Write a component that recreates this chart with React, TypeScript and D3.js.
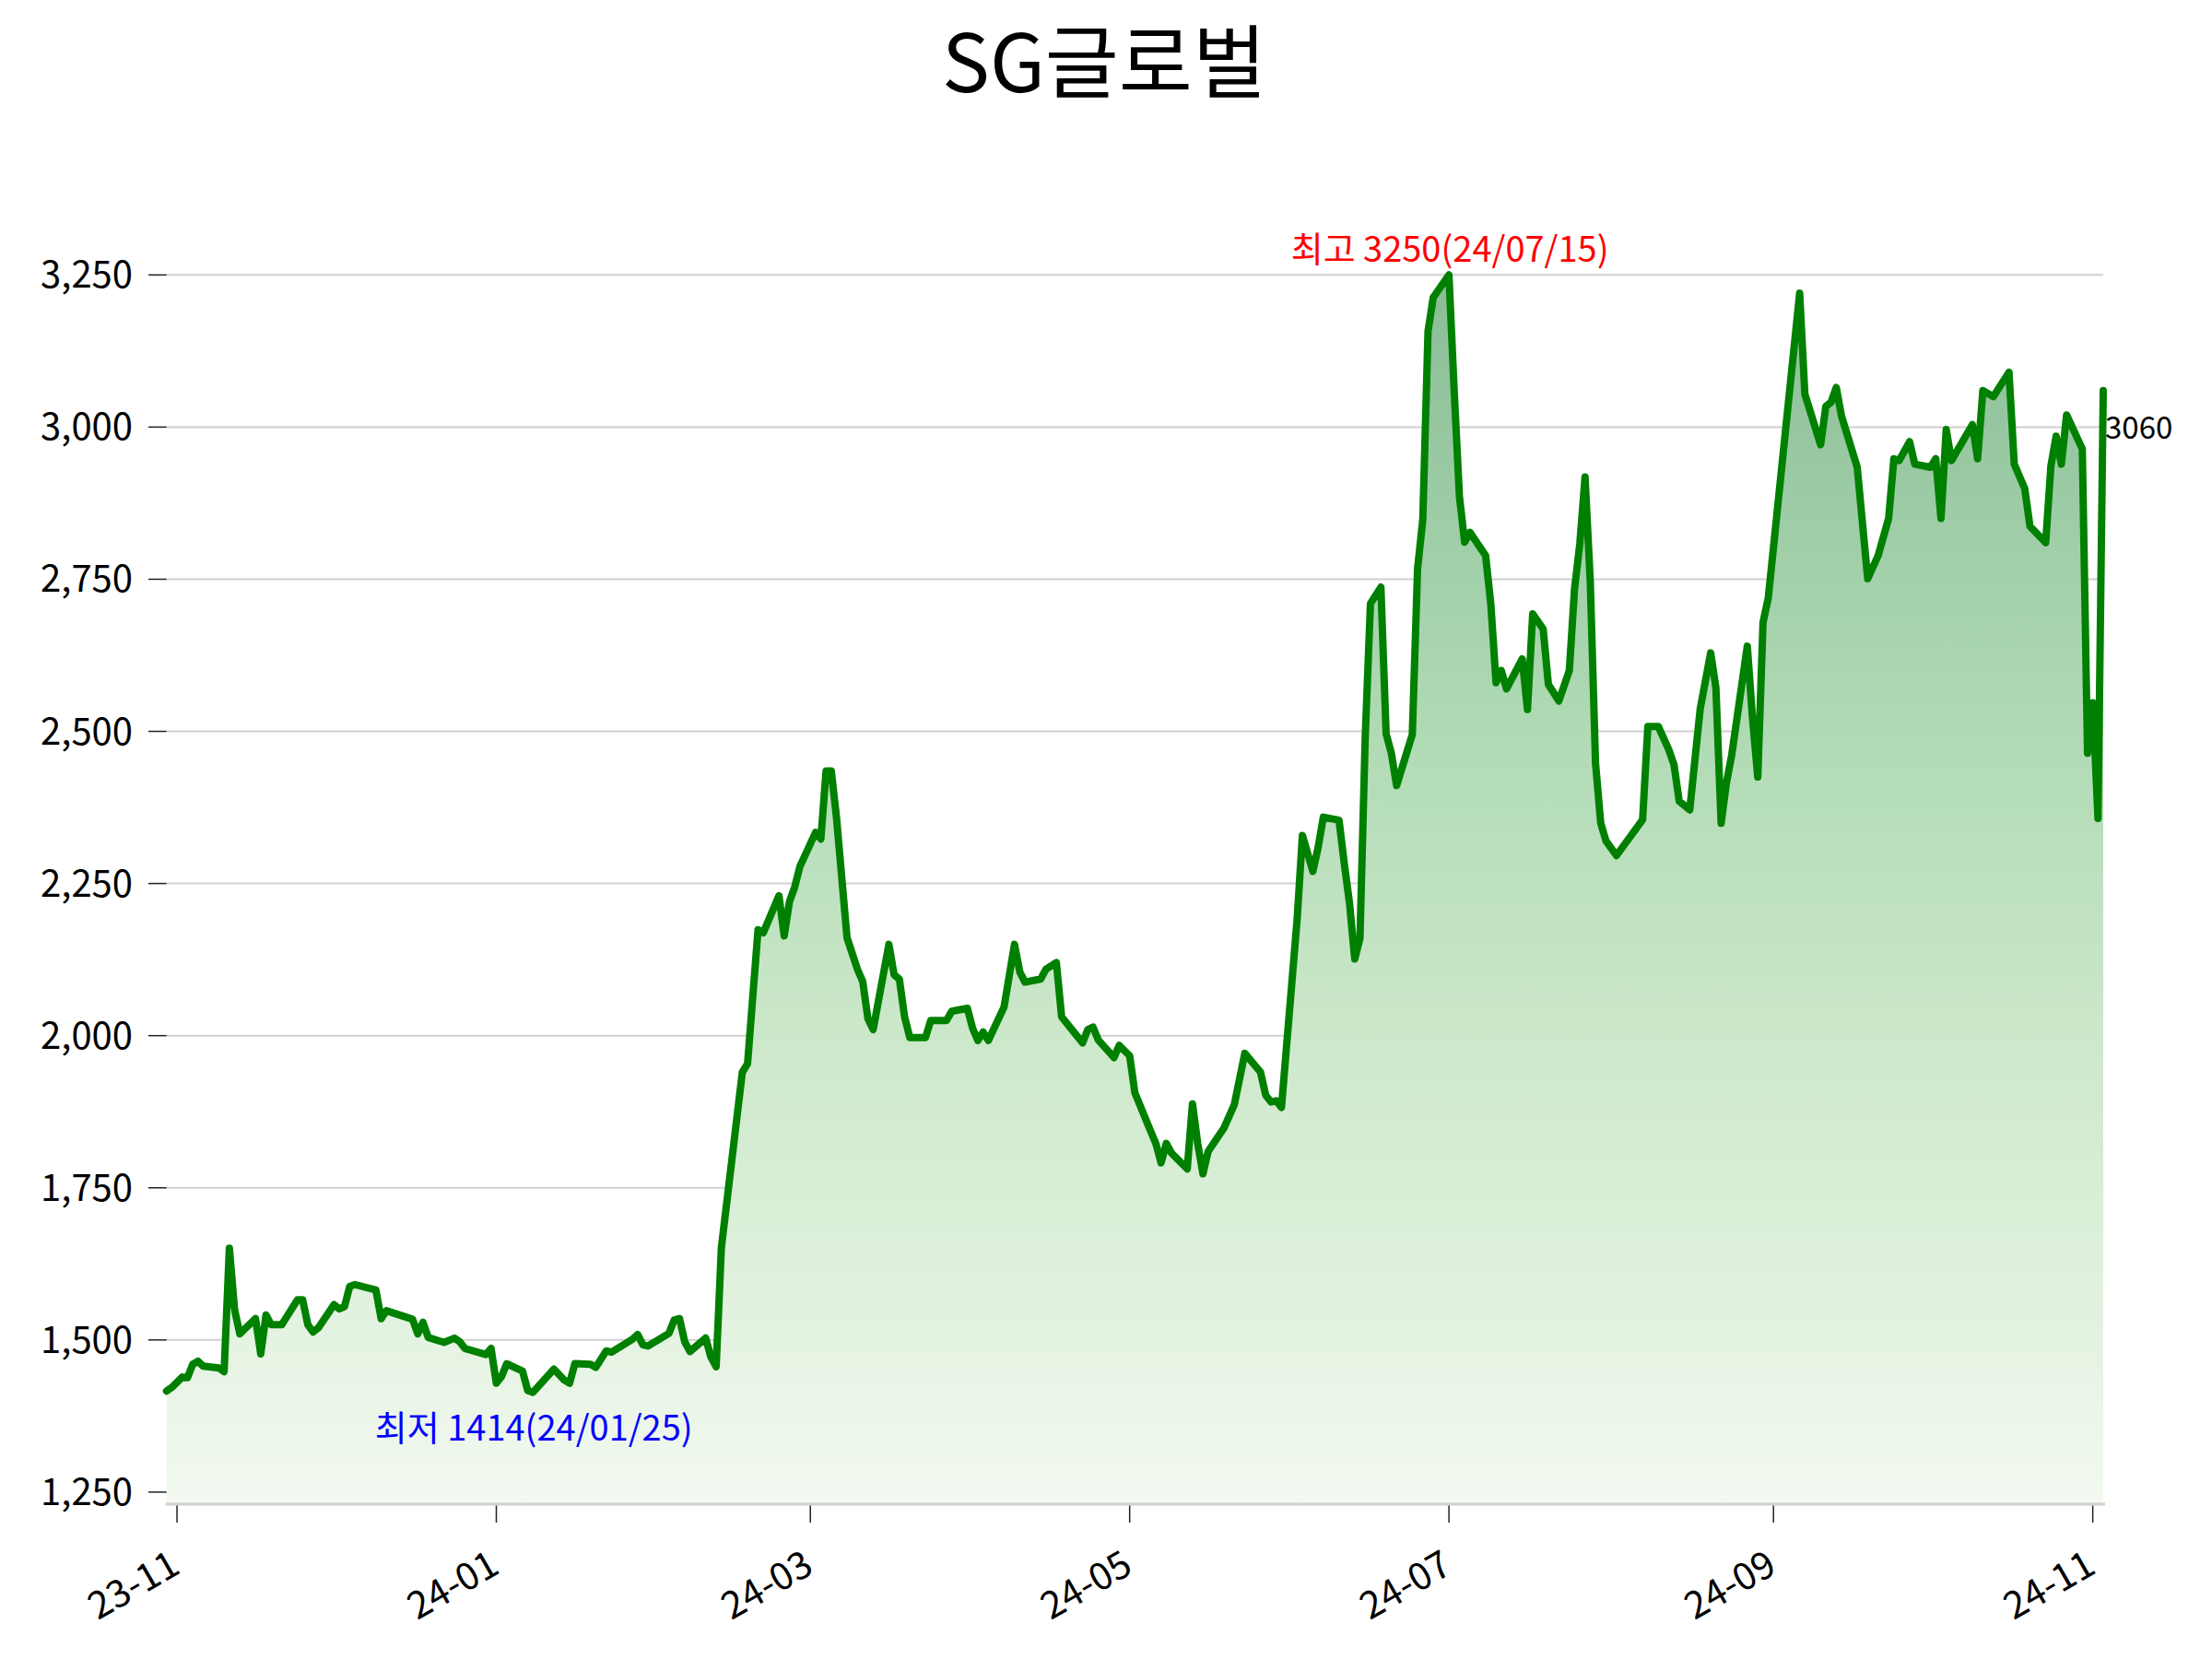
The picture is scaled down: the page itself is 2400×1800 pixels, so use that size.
import { useEffect, useRef } from "react";
import * as d3 from "d3";

const title = "SG글로벌";

// trading dates (as placed on the chart) and closing prices
const dates = [
  "2023-10-30", "2023-10-31", "2023-11-02", "2023-11-03", "2023-11-04", "2023-11-05", "2023-11-06",
  "2023-11-09", "2023-11-10", "2023-11-11", "2023-11-12", "2023-11-13", "2023-11-16", "2023-11-17",
  "2023-11-18", "2023-11-19", "2023-11-21", "2023-11-24", "2023-11-25", "2023-11-26", "2023-11-27",
  "2023-11-28",
  "2023-12-01", "2023-12-02", "2023-12-03", "2023-12-04", "2023-12-05", "2023-12-09", "2023-12-10",
  "2023-12-11", "2023-12-16", "2023-12-17", "2023-12-18", "2023-12-19", "2023-12-22", "2023-12-24",
  "2023-12-25", "2023-12-26", "2023-12-30", "2023-12-31",
  "2024-01-01", "2024-01-02", "2024-01-03", "2024-01-06", "2024-01-07", "2024-01-08", "2024-01-12",
  "2024-01-14", "2024-01-15", "2024-01-16", "2024-01-19", "2024-01-20", "2024-01-22", "2024-01-23",
  "2024-01-27", "2024-01-28", "2024-01-29", "2024-01-30",
  "2024-02-03", "2024-02-04", "2024-02-05", "2024-02-06", "2024-02-07", "2024-02-10", "2024-02-11",
  "2024-02-12", "2024-02-13", "2024-02-17", "2024-02-18", "2024-02-20", "2024-02-21", "2024-02-24",
  "2024-02-25", "2024-02-26", "2024-02-27", "2024-02-28",
  "2024-03-02", "2024-03-03", "2024-03-04", "2024-03-05", "2024-03-06", "2024-03-08", "2024-03-10",
  "2024-03-11", "2024-03-12", "2024-03-13", "2024-03-16", "2024-03-17", "2024-03-18", "2024-03-19",
  "2024-03-20", "2024-03-23", "2024-03-24", "2024-03-27", "2024-03-28", "2024-03-31",
  "2024-04-01", "2024-04-02", "2024-04-03", "2024-04-04", "2024-04-07", "2024-04-09", "2024-04-10",
  "2024-04-11", "2024-04-14", "2024-04-15", "2024-04-17", "2024-04-18", "2024-04-22", "2024-04-23",
  "2024-04-24", "2024-04-25", "2024-04-28", "2024-04-29",
  "2024-05-01", "2024-05-02", "2024-05-05", "2024-05-06", "2024-05-07", "2024-05-08", "2024-05-09",
  "2024-05-12", "2024-05-13", "2024-05-14", "2024-05-15", "2024-05-16", "2024-05-19", "2024-05-21",
  "2024-05-23", "2024-05-26", "2024-05-27", "2024-05-28", "2024-05-29", "2024-05-30",
  "2024-06-02", "2024-06-03", "2024-06-05", "2024-06-06", "2024-06-07", "2024-06-10", "2024-06-11",
  "2024-06-12", "2024-06-13", "2024-06-14", "2024-06-15", "2024-06-16", "2024-06-18", "2024-06-19",
  "2024-06-20", "2024-06-21", "2024-06-24", "2024-06-25", "2024-06-26", "2024-06-27", "2024-06-28",
  "2024-07-01", "2024-07-02", "2024-07-03", "2024-07-04", "2024-07-05", "2024-07-08", "2024-07-09",
  "2024-07-10", "2024-07-11", "2024-07-12", "2024-07-15", "2024-07-16", "2024-07-17", "2024-07-19",
  "2024-07-20", "2024-07-22", "2024-07-24", "2024-07-25", "2024-07-26", "2024-07-27", "2024-07-28",
  "2024-07-29", "2024-07-30", "2024-07-31",
  "2024-08-02", "2024-08-07", "2024-08-08", "2024-08-10", "2024-08-12", "2024-08-13", "2024-08-14",
  "2024-08-16", "2024-08-18", "2024-08-20", "2024-08-21", "2024-08-22", "2024-08-23", "2024-08-24",
  "2024-08-27", "2024-08-28", "2024-08-29", "2024-08-30", "2024-08-31",
  "2024-09-06", "2024-09-07", "2024-09-10", "2024-09-11", "2024-09-12", "2024-09-13", "2024-09-14",
  "2024-09-17", "2024-09-19", "2024-09-21", "2024-09-23", "2024-09-24", "2024-09-25", "2024-09-27",
  "2024-09-28",
  "2024-10-01", "2024-10-02", "2024-10-03", "2024-10-04", "2024-10-05", "2024-10-09", "2024-10-10",
  "2024-10-11", "2024-10-13", "2024-10-16", "2024-10-17", "2024-10-19", "2024-10-20", "2024-10-23",
  "2024-10-24", "2024-10-25", "2024-10-26", "2024-10-27", "2024-10-30", "2024-10-31",
  "2024-11-01", "2024-11-02", "2024-11-03",
];

const prices = [
  1416, 1422, 1439, 1438, 1460, 1465, 1457, 1454, 1448, 1651, 1550, 1510, 1535, 1477, 1541, 1525,
  1525, 1566, 1566, 1525, 1513, 1520,
  1558, 1551, 1555, 1588, 1591, 1582, 1535, 1548, 1534, 1510, 1529, 1504, 1496, 1503, 1497, 1486,
  1476, 1486,
  1429, 1440, 1461, 1449, 1417, 1414, 1452, 1434, 1429, 1461, 1460, 1455, 1482, 1480, 1501, 1509,
  1492, 1490,
  1511, 1533, 1535, 1497, 1481, 1503, 1472, 1456, 1652, 1940, 1954, 2174, 2169, 2230, 2164, 2220,
  2244, 2278,
  2334, 2323, 2435, 2435, 2358, 2161, 2109, 2089, 2028, 2010, 2150, 2100, 2093, 2031, 1997, 1997,
  2025, 2025, 2040, 2045,
  2012, 1992, 2006, 1992, 2047, 2150, 2105, 2088, 2093, 2109, 2120, 2031, 1988, 2010, 2014, 1993,
  1964, 1984,
  1967, 1906, 1843, 1823, 1791, 1823, 1807, 1781, 1888, 1823, 1773, 1810, 1848, 1887, 1971, 1940,
  1902, 1891, 1893, 1882,
  2192, 2329, 2270, 2309, 2359, 2354, 2283, 2218, 2126, 2160, 2490, 2710, 2737, 2496, 2464, 2411,
  2495, 2767, 2848, 3157, 3213,
  3250, 3060, 2886, 2811, 2827, 2789, 2709, 2580, 2600, 2570, 2619, 2536, 2693, 2668, 2577, 2550,
  2600, 2735, 2808, 2918, 2747, 2448, 2349, 2320,
  2296, 2355, 2508, 2508, 2470, 2445, 2385, 2371, 2537, 2629, 2572, 2349, 2415, 2460, 2640, 2521,
  2425, 2679, 2719,
  3220, 3054, 2971, 3034, 3041, 3065, 3018, 2934, 2751, 2789, 2850, 2948, 2945, 2976, 2939,
  2934, 2948, 2850, 2996, 2945, 3004, 2948, 3060, 3050, 3090, 2939, 2899, 2837, 2810, 2936, 2985,
  2939, 3020, 2964, 2464,
  2547, 2357, 3060,
];

const yTicks = [1250, 1500, 1750, 2000, 2250, 2500, 2750, 3000, 3250];
const xTickDates = ["2023-11-01", "2024-01-01", "2024-03-01", "2024-05-01", "2024-07-01", "2024-09-01", "2024-11-01"];
const highLabel = "최고 3250(24/07/15)";
const lowLabel = "최저 1414(24/01/25)";

const FONT = "'Noto Sans CJK KR', 'Noto Sans', sans-serif";

const App = () => {
  const svgRef = useRef<SVGSVGElement | null>(null);

  useEffect(() => {
    const svg = d3.select(svgRef.current);
    svg.selectAll("*").remove();

    const parse = d3.utcParse("%Y-%m-%d");
    const data = dates.map((d, i) => ({ date: parse(d)!, value: prices[i] }));

    const left = 180.7,
      right = 2282,
      top = 191,
      bottom = 1632;

    const x = d3
      .scaleUtc()
      .domain(d3.extent(data, (d) => d.date) as [Date, Date])
      .range([left, right]);

    const minV = d3.min(prices)!;
    const maxV = d3.max(prices)!;
    const y = d3
      .scaleLinear()
      .domain([minV * 0.87, maxV * 1.05])
      .range([bottom, top]);

    const defs = svg.append("defs");
    const grad = defs
      .append("linearGradient")
      .attr("id", "fillGrad")
      .attr("gradientUnits", "userSpaceOnUse")
      .attr("x1", 0)
      .attr("x2", 0)
      .attr("y1", y(maxV))
      .attr("y2", bottom);
    [
      [0, "#89bd96"],
      [0.37, "#afdab4"],
      [0.62, "#cce8ca"],
      [0.87, "#e5f3e2"],
      [1, "#f3f9f1"],
    ].forEach(([o, c]) => grad.append("stop").attr("offset", o as number).attr("stop-color", c as string));

    // title
    svg
      .append("text")
      .attr("x", 1198)
      .attr("y", 100)
      .attr("text-anchor", "middle")
      .attr("font-family", FONT)
      .attr("font-size", 87)
      .attr("fill", "#000")
      .text(title);

    // gridlines
    svg
      .append("g")
      .selectAll("line")
      .data(yTicks)
      .enter()
      .append("line")
      .attr("x1", left)
      .attr("x2", right)
      .attr("y1", (d) => y(d))
      .attr("y2", (d) => y(d))
      .attr("stroke", "#d0d0d0")
      .attr("stroke-width", 2);

    const area = d3
      .area<{ date: Date; value: number }>()
      .x((d) => x(d.date))
      .y0(bottom)
      .y1((d) => y(d.value));

    svg.append("path").datum(data).attr("d", area).attr("fill", "url(#fillGrad)");

    const line = d3
      .line<{ date: Date; value: number }>()
      .x((d) => x(d.date))
      .y((d) => y(d.value));

    svg
      .append("path")
      .datum(data)
      .attr("d", line)
      .attr("fill", "none")
      .attr("stroke", "#008000")
      .attr("stroke-width", 8)
      .attr("stroke-linejoin", "round")
      .attr("stroke-linecap", "round");

    // bottom spine
    svg
      .append("line")
      .attr("x1", left - 1)
      .attr("x2", right + 2)
      .attr("y1", bottom)
      .attr("y2", bottom)
      .attr("stroke", "#d0d0d0")
      .attr("stroke-width", 3);

    // y axis ticks + labels
    const yAxis = svg.append("g");
    yAxis
      .selectAll("line")
      .data(yTicks)
      .enter()
      .append("line")
      .attr("x1", 161)
      .attr("x2", left)
      .attr("y1", (d) => y(d))
      .attr("y2", (d) => y(d))
      .attr("stroke", "#222")
      .attr("stroke-width", 1.5);
    yAxis
      .selectAll("text")
      .data(yTicks)
      .enter()
      .append("text")
      .attr("x", 144)
      .attr("y", (d) => y(d))
      .attr("dy", "0.35em")
      .attr("text-anchor", "end")
      .attr("font-family", FONT)
      .attr("font-size", 40)
      .attr("fill", "#000")
      .text((d) => d3.format(",")(d));

    // x axis ticks + labels
    const fmt = d3.utcFormat("%y-%m");
    const xTicks = xTickDates.map((d) => parse(d)!);
    const xAxis = svg.append("g");
    xAxis
      .selectAll("line")
      .data(xTicks)
      .enter()
      .append("line")
      .attr("x1", (d) => x(d))
      .attr("x2", (d) => x(d))
      .attr("y1", bottom + 1.5)
      .attr("y2", bottom + 20)
      .attr("stroke", "#222")
      .attr("stroke-width", 1.5);
    xAxis
      .selectAll("text")
      .data(xTicks)
      .enter()
      .append("text")
      .attr("transform", (d) => `translate(${x(d) - 10},${bottom + 47}) rotate(-30)`)
      .attr("dy", "0.75em")
      .attr("text-anchor", "end")
      .attr("font-family", FONT)
      .attr("font-size", 41)
      .attr("fill", "#000")
      .text((d) => fmt(d));

    // annotations
    const hi = data[prices.indexOf(maxV)];
    const lo = data[prices.indexOf(minV)];
    const last = data[data.length - 1];

    svg
      .append("text")
      .attr("x", x(hi.date) + 1)
      .attr("y", y(hi.value) - 14)
      .attr("text-anchor", "middle")
      .attr("font-family", FONT)
      .attr("font-size", 38)
      .attr("fill", "red")
      .text(highLabel);

    svg
      .append("text")
      .attr("x", x(lo.date) + 1)
      .attr("y", y(lo.value) + 52)
      .attr("text-anchor", "middle")
      .attr("font-family", FONT)
      .attr("font-size", 38)
      .attr("fill", "blue")
      .text(lowLabel);

    svg
      .append("text")
      .attr("x", x(last.date) + 2)
      .attr("y", y(last.value) + 52)
      .attr("font-family", FONT)
      .attr("font-size", 33)
      .attr("fill", "#000")
      .text(String(last.value));
  }, []);

  return (
    <svg
      ref={svgRef}
      width={2400}
      height={1800}
      style={{ position: "absolute", left: 0, top: 0, background: "#fff" }}
    ></svg>
  );
};

export default App;
